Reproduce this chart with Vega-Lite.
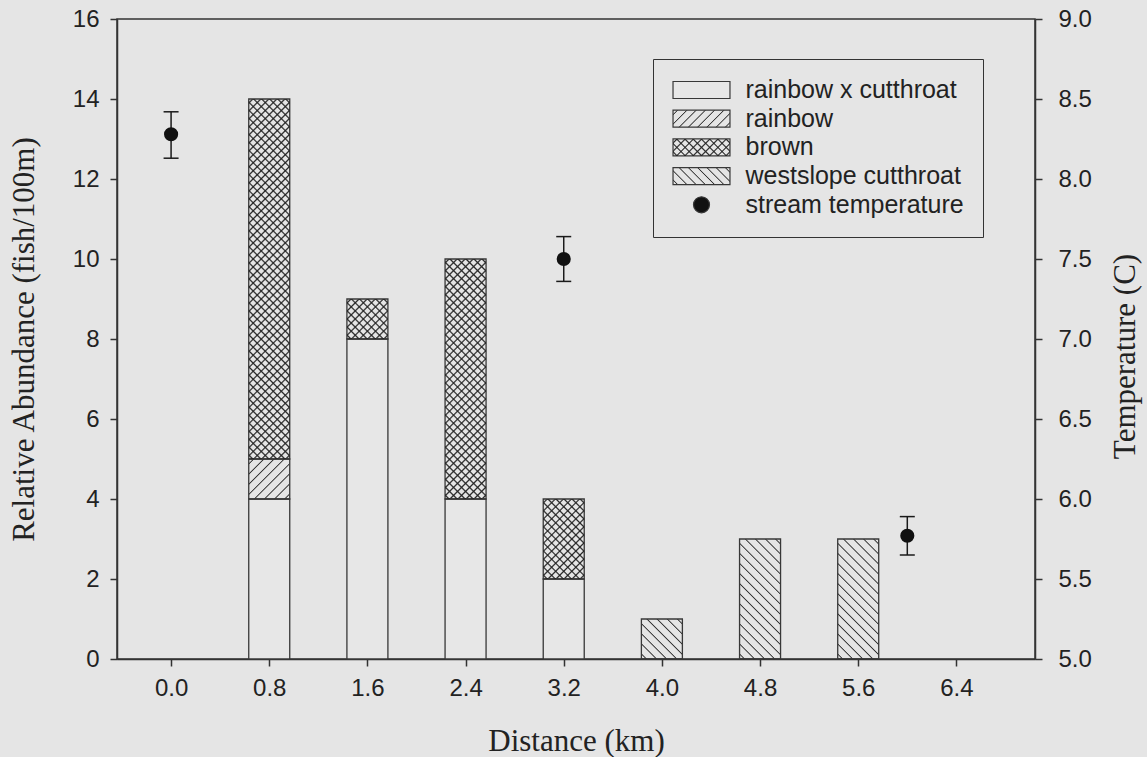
{
  "$schema": "https://vega.github.io/schema/vega-lite/v6.json",
  "width": 918,
  "height": 640,
  "autosize": {"type": "none"},
  "padding": {"left": 117, "top": 19, "right": 112, "bottom": 98},
  "background": "#e5e5e5",
  "view": {"stroke": "#333", "strokeWidth": 1.5},
  "params": [
    {"name": "s50", "value": [
      {"offset":0.006,"color":"transparent"},{"offset":0.01,"color":"#2a2a2a"},{"offset":0.014,"color":"transparent"},
      {"offset":0.026,"color":"transparent"},{"offset":0.03,"color":"#2a2a2a"},{"offset":0.034,"color":"transparent"},
      {"offset":0.046,"color":"transparent"},{"offset":0.05,"color":"#2a2a2a"},{"offset":0.054,"color":"transparent"},
      {"offset":0.066,"color":"transparent"},{"offset":0.07,"color":"#2a2a2a"},{"offset":0.074,"color":"transparent"},
      {"offset":0.086,"color":"transparent"},{"offset":0.09,"color":"#2a2a2a"},{"offset":0.094,"color":"transparent"},
      {"offset":0.106,"color":"transparent"},{"offset":0.11,"color":"#2a2a2a"},{"offset":0.114,"color":"transparent"},
      {"offset":0.126,"color":"transparent"},{"offset":0.13,"color":"#2a2a2a"},{"offset":0.134,"color":"transparent"},
      {"offset":0.146,"color":"transparent"},{"offset":0.15,"color":"#2a2a2a"},{"offset":0.154,"color":"transparent"},
      {"offset":0.166,"color":"transparent"},{"offset":0.17,"color":"#2a2a2a"},{"offset":0.174,"color":"transparent"},
      {"offset":0.186,"color":"transparent"},{"offset":0.19,"color":"#2a2a2a"},{"offset":0.194,"color":"transparent"},
      {"offset":0.206,"color":"transparent"},{"offset":0.21,"color":"#2a2a2a"},{"offset":0.214,"color":"transparent"},
      {"offset":0.226,"color":"transparent"},{"offset":0.23,"color":"#2a2a2a"},{"offset":0.234,"color":"transparent"},
      {"offset":0.246,"color":"transparent"},{"offset":0.25,"color":"#2a2a2a"},{"offset":0.254,"color":"transparent"},
      {"offset":0.266,"color":"transparent"},{"offset":0.27,"color":"#2a2a2a"},{"offset":0.274,"color":"transparent"},
      {"offset":0.286,"color":"transparent"},{"offset":0.29,"color":"#2a2a2a"},{"offset":0.294,"color":"transparent"},
      {"offset":0.306,"color":"transparent"},{"offset":0.31,"color":"#2a2a2a"},{"offset":0.314,"color":"transparent"},
      {"offset":0.326,"color":"transparent"},{"offset":0.33,"color":"#2a2a2a"},{"offset":0.334,"color":"transparent"},
      {"offset":0.346,"color":"transparent"},{"offset":0.35,"color":"#2a2a2a"},{"offset":0.354,"color":"transparent"},
      {"offset":0.366,"color":"transparent"},{"offset":0.37,"color":"#2a2a2a"},{"offset":0.374,"color":"transparent"},
      {"offset":0.386,"color":"transparent"},{"offset":0.39,"color":"#2a2a2a"},{"offset":0.394,"color":"transparent"},
      {"offset":0.406,"color":"transparent"},{"offset":0.41,"color":"#2a2a2a"},{"offset":0.414,"color":"transparent"},
      {"offset":0.426,"color":"transparent"},{"offset":0.43,"color":"#2a2a2a"},{"offset":0.434,"color":"transparent"},
      {"offset":0.446,"color":"transparent"},{"offset":0.45,"color":"#2a2a2a"},{"offset":0.454,"color":"transparent"},
      {"offset":0.466,"color":"transparent"},{"offset":0.47,"color":"#2a2a2a"},{"offset":0.474,"color":"transparent"},
      {"offset":0.486,"color":"transparent"},{"offset":0.49,"color":"#2a2a2a"},{"offset":0.494,"color":"transparent"},
      {"offset":0.506,"color":"transparent"},{"offset":0.51,"color":"#2a2a2a"},{"offset":0.514,"color":"transparent"},
      {"offset":0.526,"color":"transparent"},{"offset":0.53,"color":"#2a2a2a"},{"offset":0.534,"color":"transparent"},
      {"offset":0.546,"color":"transparent"},{"offset":0.55,"color":"#2a2a2a"},{"offset":0.554,"color":"transparent"},
      {"offset":0.566,"color":"transparent"},{"offset":0.57,"color":"#2a2a2a"},{"offset":0.574,"color":"transparent"},
      {"offset":0.586,"color":"transparent"},{"offset":0.59,"color":"#2a2a2a"},{"offset":0.594,"color":"transparent"},
      {"offset":0.606,"color":"transparent"},{"offset":0.61,"color":"#2a2a2a"},{"offset":0.614,"color":"transparent"},
      {"offset":0.626,"color":"transparent"},{"offset":0.63,"color":"#2a2a2a"},{"offset":0.634,"color":"transparent"},
      {"offset":0.646,"color":"transparent"},{"offset":0.65,"color":"#2a2a2a"},{"offset":0.654,"color":"transparent"},
      {"offset":0.666,"color":"transparent"},{"offset":0.67,"color":"#2a2a2a"},{"offset":0.674,"color":"transparent"},
      {"offset":0.686,"color":"transparent"},{"offset":0.69,"color":"#2a2a2a"},{"offset":0.694,"color":"transparent"},
      {"offset":0.706,"color":"transparent"},{"offset":0.71,"color":"#2a2a2a"},{"offset":0.714,"color":"transparent"},
      {"offset":0.726,"color":"transparent"},{"offset":0.73,"color":"#2a2a2a"},{"offset":0.734,"color":"transparent"},
      {"offset":0.746,"color":"transparent"},{"offset":0.75,"color":"#2a2a2a"},{"offset":0.754,"color":"transparent"},
      {"offset":0.766,"color":"transparent"},{"offset":0.77,"color":"#2a2a2a"},{"offset":0.774,"color":"transparent"},
      {"offset":0.786,"color":"transparent"},{"offset":0.79,"color":"#2a2a2a"},{"offset":0.794,"color":"transparent"},
      {"offset":0.806,"color":"transparent"},{"offset":0.81,"color":"#2a2a2a"},{"offset":0.814,"color":"transparent"},
      {"offset":0.826,"color":"transparent"},{"offset":0.83,"color":"#2a2a2a"},{"offset":0.834,"color":"transparent"},
      {"offset":0.846,"color":"transparent"},{"offset":0.85,"color":"#2a2a2a"},{"offset":0.854,"color":"transparent"},
      {"offset":0.866,"color":"transparent"},{"offset":0.87,"color":"#2a2a2a"},{"offset":0.874,"color":"transparent"},
      {"offset":0.886,"color":"transparent"},{"offset":0.89,"color":"#2a2a2a"},{"offset":0.894,"color":"transparent"},
      {"offset":0.906,"color":"transparent"},{"offset":0.91,"color":"#2a2a2a"},{"offset":0.914,"color":"transparent"},
      {"offset":0.926,"color":"transparent"},{"offset":0.93,"color":"#2a2a2a"},{"offset":0.934,"color":"transparent"},
      {"offset":0.946,"color":"transparent"},{"offset":0.95,"color":"#2a2a2a"},{"offset":0.954,"color":"transparent"},
      {"offset":0.966,"color":"transparent"},{"offset":0.97,"color":"#2a2a2a"},{"offset":0.974,"color":"transparent"},
      {"offset":0.986,"color":"transparent"},{"offset":0.99,"color":"#2a2a2a"},{"offset":0.994,"color":"transparent"}
    ]},
    {"name": "s10", "value": [
      {"offset":0.03,"color":"transparent"},{"offset":0.05,"color":"#2a2a2a"},{"offset":0.07,"color":"transparent"},
      {"offset":0.13,"color":"transparent"},{"offset":0.15,"color":"#2a2a2a"},{"offset":0.17,"color":"transparent"},
      {"offset":0.23,"color":"transparent"},{"offset":0.25,"color":"#2a2a2a"},{"offset":0.27,"color":"transparent"},
      {"offset":0.33,"color":"transparent"},{"offset":0.35,"color":"#2a2a2a"},{"offset":0.37,"color":"transparent"},
      {"offset":0.43,"color":"transparent"},{"offset":0.45,"color":"#2a2a2a"},{"offset":0.47,"color":"transparent"},
      {"offset":0.53,"color":"transparent"},{"offset":0.55,"color":"#2a2a2a"},{"offset":0.57,"color":"transparent"},
      {"offset":0.63,"color":"transparent"},{"offset":0.65,"color":"#2a2a2a"},{"offset":0.67,"color":"transparent"},
      {"offset":0.73,"color":"transparent"},{"offset":0.75,"color":"#2a2a2a"},{"offset":0.77,"color":"transparent"},
      {"offset":0.83,"color":"transparent"},{"offset":0.85,"color":"#2a2a2a"},{"offset":0.87,"color":"transparent"},
      {"offset":0.93,"color":"transparent"},{"offset":0.95,"color":"#2a2a2a"},{"offset":0.97,"color":"transparent"}
    ]},
    {"name": "s35", "value": [
      {"offset":0.0086,"color":"transparent"},{"offset":0.0143,"color":"#2a2a2a"},{"offset":0.02,"color":"transparent"},
      {"offset":0.0372,"color":"transparent"},{"offset":0.0429,"color":"#2a2a2a"},{"offset":0.0486,"color":"transparent"},
      {"offset":0.0657,"color":"transparent"},{"offset":0.0714,"color":"#2a2a2a"},{"offset":0.0771,"color":"transparent"},
      {"offset":0.0943,"color":"transparent"},{"offset":0.1,"color":"#2a2a2a"},{"offset":0.1057,"color":"transparent"},
      {"offset":0.1229,"color":"transparent"},{"offset":0.1286,"color":"#2a2a2a"},{"offset":0.1343,"color":"transparent"},
      {"offset":0.1514,"color":"transparent"},{"offset":0.1571,"color":"#2a2a2a"},{"offset":0.1628,"color":"transparent"},
      {"offset":0.18,"color":"transparent"},{"offset":0.1857,"color":"#2a2a2a"},{"offset":0.1914,"color":"transparent"},
      {"offset":0.2086,"color":"transparent"},{"offset":0.2143,"color":"#2a2a2a"},{"offset":0.22,"color":"transparent"},
      {"offset":0.2372,"color":"transparent"},{"offset":0.2429,"color":"#2a2a2a"},{"offset":0.2486,"color":"transparent"},
      {"offset":0.2657,"color":"transparent"},{"offset":0.2714,"color":"#2a2a2a"},{"offset":0.2771,"color":"transparent"},
      {"offset":0.2943,"color":"transparent"},{"offset":0.3,"color":"#2a2a2a"},{"offset":0.3057,"color":"transparent"},
      {"offset":0.3229,"color":"transparent"},{"offset":0.3286,"color":"#2a2a2a"},{"offset":0.3343,"color":"transparent"},
      {"offset":0.3514,"color":"transparent"},{"offset":0.3571,"color":"#2a2a2a"},{"offset":0.3628,"color":"transparent"},
      {"offset":0.38,"color":"transparent"},{"offset":0.3857,"color":"#2a2a2a"},{"offset":0.3914,"color":"transparent"},
      {"offset":0.4086,"color":"transparent"},{"offset":0.4143,"color":"#2a2a2a"},{"offset":0.42,"color":"transparent"},
      {"offset":0.4372,"color":"transparent"},{"offset":0.4429,"color":"#2a2a2a"},{"offset":0.4486,"color":"transparent"},
      {"offset":0.4657,"color":"transparent"},{"offset":0.4714,"color":"#2a2a2a"},{"offset":0.4771,"color":"transparent"},
      {"offset":0.4943,"color":"transparent"},{"offset":0.5,"color":"#2a2a2a"},{"offset":0.5057,"color":"transparent"},
      {"offset":0.5229,"color":"transparent"},{"offset":0.5286,"color":"#2a2a2a"},{"offset":0.5343,"color":"transparent"},
      {"offset":0.5514,"color":"transparent"},{"offset":0.5571,"color":"#2a2a2a"},{"offset":0.5628,"color":"transparent"},
      {"offset":0.58,"color":"transparent"},{"offset":0.5857,"color":"#2a2a2a"},{"offset":0.5914,"color":"transparent"},
      {"offset":0.6086,"color":"transparent"},{"offset":0.6143,"color":"#2a2a2a"},{"offset":0.62,"color":"transparent"},
      {"offset":0.6372,"color":"transparent"},{"offset":0.6429,"color":"#2a2a2a"},{"offset":0.6486,"color":"transparent"},
      {"offset":0.6657,"color":"transparent"},{"offset":0.6714,"color":"#2a2a2a"},{"offset":0.6771,"color":"transparent"},
      {"offset":0.6943,"color":"transparent"},{"offset":0.7,"color":"#2a2a2a"},{"offset":0.7057,"color":"transparent"},
      {"offset":0.7229,"color":"transparent"},{"offset":0.7286,"color":"#2a2a2a"},{"offset":0.7343,"color":"transparent"},
      {"offset":0.7514,"color":"transparent"},{"offset":0.7571,"color":"#2a2a2a"},{"offset":0.7628,"color":"transparent"},
      {"offset":0.78,"color":"transparent"},{"offset":0.7857,"color":"#2a2a2a"},{"offset":0.7914,"color":"transparent"},
      {"offset":0.8086,"color":"transparent"},{"offset":0.8143,"color":"#2a2a2a"},{"offset":0.82,"color":"transparent"},
      {"offset":0.8372,"color":"transparent"},{"offset":0.8429,"color":"#2a2a2a"},{"offset":0.8486,"color":"transparent"},
      {"offset":0.8657,"color":"transparent"},{"offset":0.8714,"color":"#2a2a2a"},{"offset":0.8771,"color":"transparent"},
      {"offset":0.8943,"color":"transparent"},{"offset":0.9,"color":"#2a2a2a"},{"offset":0.9057,"color":"transparent"},
      {"offset":0.9229,"color":"transparent"},{"offset":0.9286,"color":"#2a2a2a"},{"offset":0.9343,"color":"transparent"},
      {"offset":0.9514,"color":"transparent"},{"offset":0.9571,"color":"#2a2a2a"},{"offset":0.9628,"color":"transparent"},
      {"offset":0.98,"color":"transparent"},{"offset":0.9857,"color":"#2a2a2a"},{"offset":0.9914,"color":"transparent"}
    ]},
    {"name": "s15", "value": [
      {"offset":0.0203,"color":"transparent"},{"offset":0.0333,"color":"#2a2a2a"},{"offset":0.0463,"color":"transparent"},
      {"offset":0.087,"color":"transparent"},{"offset":0.1,"color":"#2a2a2a"},{"offset":0.113,"color":"transparent"},
      {"offset":0.1537,"color":"transparent"},{"offset":0.1667,"color":"#2a2a2a"},{"offset":0.1797,"color":"transparent"},
      {"offset":0.2203,"color":"transparent"},{"offset":0.2333,"color":"#2a2a2a"},{"offset":0.2463,"color":"transparent"},
      {"offset":0.287,"color":"transparent"},{"offset":0.3,"color":"#2a2a2a"},{"offset":0.313,"color":"transparent"},
      {"offset":0.3537,"color":"transparent"},{"offset":0.3667,"color":"#2a2a2a"},{"offset":0.3797,"color":"transparent"},
      {"offset":0.4203,"color":"transparent"},{"offset":0.4333,"color":"#2a2a2a"},{"offset":0.4463,"color":"transparent"},
      {"offset":0.487,"color":"transparent"},{"offset":0.5,"color":"#2a2a2a"},{"offset":0.513,"color":"transparent"},
      {"offset":0.5537,"color":"transparent"},{"offset":0.5667,"color":"#2a2a2a"},{"offset":0.5797,"color":"transparent"},
      {"offset":0.6203,"color":"transparent"},{"offset":0.6333,"color":"#2a2a2a"},{"offset":0.6463,"color":"transparent"},
      {"offset":0.687,"color":"transparent"},{"offset":0.7,"color":"#2a2a2a"},{"offset":0.713,"color":"transparent"},
      {"offset":0.7537,"color":"transparent"},{"offset":0.7667,"color":"#2a2a2a"},{"offset":0.7797,"color":"transparent"},
      {"offset":0.8203,"color":"transparent"},{"offset":0.8333,"color":"#2a2a2a"},{"offset":0.8463,"color":"transparent"},
      {"offset":0.887,"color":"transparent"},{"offset":0.9,"color":"#2a2a2a"},{"offset":0.913,"color":"transparent"},
      {"offset":0.9537,"color":"transparent"},{"offset":0.9667,"color":"#2a2a2a"},{"offset":0.9797,"color":"transparent"}
    ]},
    {"name": "s8", "value": [
      {"offset":0.0475,"color":"transparent"},{"offset":0.0625,"color":"#333"},{"offset":0.0775,"color":"transparent"},
      {"offset":0.1725,"color":"transparent"},{"offset":0.1875,"color":"#333"},{"offset":0.2025,"color":"transparent"},
      {"offset":0.2975,"color":"transparent"},{"offset":0.3125,"color":"#333"},{"offset":0.3275,"color":"transparent"},
      {"offset":0.4225,"color":"transparent"},{"offset":0.4375,"color":"#333"},{"offset":0.4525,"color":"transparent"},
      {"offset":0.5475,"color":"transparent"},{"offset":0.5625,"color":"#333"},{"offset":0.5775,"color":"transparent"},
      {"offset":0.6725,"color":"transparent"},{"offset":0.6875,"color":"#333"},{"offset":0.7025,"color":"transparent"},
      {"offset":0.7975,"color":"transparent"},{"offset":0.8125,"color":"#333"},{"offset":0.8275,"color":"transparent"},
      {"offset":0.9225,"color":"transparent"},{"offset":0.9375,"color":"#333"},{"offset":0.9525,"color":"transparent"}
    ]},
    {"name": "s16", "value": [
      {"offset":0.02375,"color":"transparent"},{"offset":0.03125,"color":"#333"},{"offset":0.03875,"color":"transparent"},
      {"offset":0.08625,"color":"transparent"},{"offset":0.09375,"color":"#333"},{"offset":0.10125,"color":"transparent"},
      {"offset":0.14875,"color":"transparent"},{"offset":0.15625,"color":"#333"},{"offset":0.16375,"color":"transparent"},
      {"offset":0.21125,"color":"transparent"},{"offset":0.21875,"color":"#333"},{"offset":0.22625,"color":"transparent"},
      {"offset":0.27375,"color":"transparent"},{"offset":0.28125,"color":"#333"},{"offset":0.28875,"color":"transparent"},
      {"offset":0.33625,"color":"transparent"},{"offset":0.34375,"color":"#333"},{"offset":0.35125,"color":"transparent"},
      {"offset":0.39875,"color":"transparent"},{"offset":0.40625,"color":"#333"},{"offset":0.41375,"color":"transparent"},
      {"offset":0.46125,"color":"transparent"},{"offset":0.46875,"color":"#333"},{"offset":0.47625,"color":"transparent"},
      {"offset":0.52375,"color":"transparent"},{"offset":0.53125,"color":"#333"},{"offset":0.53875,"color":"transparent"},
      {"offset":0.58625,"color":"transparent"},{"offset":0.59375,"color":"#333"},{"offset":0.60125,"color":"transparent"},
      {"offset":0.64875,"color":"transparent"},{"offset":0.65625,"color":"#333"},{"offset":0.66375,"color":"transparent"},
      {"offset":0.71125,"color":"transparent"},{"offset":0.71875,"color":"#333"},{"offset":0.72625,"color":"transparent"},
      {"offset":0.77375,"color":"transparent"},{"offset":0.78125,"color":"#333"},{"offset":0.78875,"color":"transparent"},
      {"offset":0.83625,"color":"transparent"},{"offset":0.84375,"color":"#333"},{"offset":0.85125,"color":"transparent"},
      {"offset":0.89875,"color":"transparent"},{"offset":0.90625,"color":"#333"},{"offset":0.91375,"color":"transparent"},
      {"offset":0.96125,"color":"transparent"},{"offset":0.96875,"color":"#333"},{"offset":0.97625,"color":"transparent"}
    ]},
    {"name": "s9", "value": [
      {"offset":0.0356,"color":"transparent"},{"offset":0.0556,"color":"#2a2a2a"},{"offset":0.0756,"color":"transparent"},
      {"offset":0.1467,"color":"transparent"},{"offset":0.1667,"color":"#2a2a2a"},{"offset":0.1867,"color":"transparent"},
      {"offset":0.2578,"color":"transparent"},{"offset":0.2778,"color":"#2a2a2a"},{"offset":0.2978,"color":"transparent"},
      {"offset":0.3689,"color":"transparent"},{"offset":0.3889,"color":"#2a2a2a"},{"offset":0.4089,"color":"transparent"},
      {"offset":0.48,"color":"transparent"},{"offset":0.5,"color":"#2a2a2a"},{"offset":0.52,"color":"transparent"},
      {"offset":0.5911,"color":"transparent"},{"offset":0.6111,"color":"#2a2a2a"},{"offset":0.6311,"color":"transparent"},
      {"offset":0.7022,"color":"transparent"},{"offset":0.7222,"color":"#2a2a2a"},{"offset":0.7422,"color":"transparent"},
      {"offset":0.8133,"color":"transparent"},{"offset":0.8333,"color":"#2a2a2a"},{"offset":0.8533,"color":"transparent"},
      {"offset":0.9244,"color":"transparent"},{"offset":0.9444,"color":"#2a2a2a"},{"offset":0.9644,"color":"transparent"}
    ]},
    {"name": "gA1", "expr": "{gradient: 'linear', x1: 0, y1: 0, x2: 0.12524, y2: 1.09963, stops: s50}"},
    {"name": "gA2", "expr": "{gradient: 'linear', x1: 0, y1: 1, x2: 0.12524, y2: -0.09963, stops: s50}"},
    {"name": "gB1", "expr": "{gradient: 'linear', x1: 0, y1: 0, x2: 1.01219, y2: 0.9875, stops: s10}"},
    {"name": "gB2", "expr": "{gradient: 'linear', x1: 0, y1: 1, x2: 1.01219, y2: 0.0125, stops: s10}"},
    {"name": "gC1", "expr": "{gradient: 'linear', x1: 0, y1: 0, x2: 0.19435, y2: 1.13763, stops: s35}"},
    {"name": "gC2", "expr": "{gradient: 'linear', x1: 0, y1: 1, x2: 0.19435, y2: -0.13763, stops: s35}"},
    {"name": "gD1", "expr": "{gradient: 'linear', x1: 0, y1: 0, x2: 0.61391, y2: 1.19787, stops: s15}"},
    {"name": "gD2", "expr": "{gradient: 'linear', x1: 0, y1: 1, x2: 0.61391, y2: -0.19787, stops: s15}"},
    {"name": "gE", "expr": "{gradient: 'linear', x1: 0, y1: 0, x2: 1.01219, y2: 0.9875, stops: s8}"},
    {"name": "gF", "expr": "{gradient: 'linear', x1: 0, y1: 1, x2: 1.01219, y2: 0.0125, stops: s8}"},
    {"name": "gG", "expr": "{gradient: 'linear', x1: 0, y1: 1, x2: 0.41048, y2: -0.20142, stops: s16}"},
    {"name": "gLr", "expr": "{gradient: 'linear', x1: 0, y1: 0, x2: 1.1922, y2: 0.3556, stops: s8}"},
    {"name": "gLw", "expr": "{gradient: 'linear', x1: 0, y1: 1, x2: 1.1922, y2: 0.6444, stops: s8}"},
    {"name": "gLb1", "expr": "{gradient: 'linear', x1: 0, y1: 0, x2: 1.1922, y2: 0.3556, stops: s9}"},
    {"name": "gLb2", "expr": "{gradient: 'linear', x1: 0, y1: 1, x2: 1.1922, y2: 0.6444, stops: s9}"}
  ],
  "datasets": {
    "fish": [
      {"distance": 0.8, "species": "rainbow x cutthroat", "abundance": 4},
      {"distance": 0.8, "species": "rainbow", "abundance": 1},
      {"distance": 0.8, "species": "brown", "abundance": 9},
      {"distance": 1.6, "species": "rainbow x cutthroat", "abundance": 8},
      {"distance": 1.6, "species": "brown", "abundance": 1},
      {"distance": 2.4, "species": "rainbow x cutthroat", "abundance": 4},
      {"distance": 2.4, "species": "brown", "abundance": 6},
      {"distance": 3.2, "species": "rainbow x cutthroat", "abundance": 2},
      {"distance": 3.2, "species": "brown", "abundance": 2},
      {"distance": 4.0, "species": "westslope cutthroat", "abundance": 1},
      {"distance": 4.8, "species": "westslope cutthroat", "abundance": 3},
      {"distance": 5.6, "species": "westslope cutthroat", "abundance": 3}
    ],
    "temperature": [
      {"distance": 0.0, "series": "stream temperature", "temp": 8.28, "lo": 8.13, "hi": 8.42},
      {"distance": 3.2, "series": "stream temperature", "temp": 7.50, "lo": 7.36, "hi": 7.64},
      {"distance": 6.0, "series": "stream temperature", "temp": 5.77, "lo": 5.65, "hi": 5.89}
    ]
  },
  "layer": [
    {
      "data": {"name": "fish"},
      "resolve": {"scale": {"fill": "independent"}, "legend": {"fill": "independent"}},
      "layer": [
        {
          "mark": {"type": "bar", "width": 41, "stroke": "#383838", "strokeWidth": 1.3},
          "encoding": {
            "x": {
              "field": "distance", "type": "quantitative",
              "scale": {"domain": [-0.4, 7.0], "nice": false, "zero": false},
              "axis": {"title": "Distance (km)", "values": [0, 0.8, 1.6, 2.4, 3.2, 4.0, 4.8, 5.6, 6.4], "format": ".1f", "labelPadding": 10, "titleBaseline": "alphabetic", "titleY": 91}
            },
            "y": {
              "field": "abundance", "type": "quantitative", "stack": "zero",
              "scale": {"domain": [0, 16], "nice": false},
              "axis": {"title": "Relative Abundance (fish/100m)", "orient": "left", "values": [0, 2, 4, 6, 8, 10, 12, 14, 16], "labelPadding": 11, "titleAngle": -90, "titleBaseline": "alphabetic", "titleX": -84, "titleY": 320}
            },
            "fill": {
              "field": "species", "type": "nominal",
              "condition": [
                {"test": "datum.species === 'brown' && datum.distance === 0.8", "value": {"expr": "gA1"}},
                {"test": "datum.species === 'brown' && datum.distance === 1.6", "value": {"expr": "gB1"}},
                {"test": "datum.species === 'brown' && datum.distance === 2.4", "value": {"expr": "gC1"}},
                {"test": "datum.species === 'brown' && datum.distance === 3.2", "value": {"expr": "gD1"}},
                {"test": "datum.species === 'rainbow'", "value": {"expr": "gE"}},
                {"test": "datum.species === 'westslope cutthroat' && datum.distance === 4", "value": {"expr": "gF"}},
                {"test": "datum.species === 'westslope cutthroat'", "value": {"expr": "gG"}}
              ],
              "scale": {
                "domain": ["rainbow x cutthroat", "rainbow", "brown", "westslope cutthroat", "stream temperature"],
                "range": ["#e7e7e7", {"expr": "gLr"}, {"expr": "gLb1"}, {"expr": "gLw"}, "#111111"]
              },
              "legend": {
                "title": null,
                "orient": "none",
                "legendX": 536,
                "legendY": 40,
                "padding": 18.5,
                "rowPadding": 2.7,
                "symbolOffset": 17.5,
                "labelOffset": 31.5,
                "labelLimit": 400,
                "symbolSize": 289,
                "symbolType": {"expr": "datum.value === 'stream temperature' ? 'M0.94,0A0.94,0.94,0,1,1,-0.94,0A0.94,0.94,0,1,1,0.94,0Z' : 'M-3.35,-1H3.35V1H-3.35Z'"},
                "symbolStrokeColor": "#383838",
                "symbolStrokeWidth": 1.2,
                "strokeColor": "#333"
              }
            },
            "order": {"field": "species", "sort": "descending"}
          }
        },
        {
          "transform": [
            {"calculate": "datum.species === 'brown' ? 'b' + datum.distance : 'L1'", "as": "hatchKey"}
          ],
          "mark": {"type": "bar", "width": 41, "stroke": "transparent", "strokeWidth": 0},
          "encoding": {
            "x": {"field": "distance", "type": "quantitative"},
            "y": {
              "field": "abundance", "type": "quantitative", "stack": "zero",
              "scale": {"domain": [0, 16], "nice": false},
              "axis": {"title": "Relative Abundance (fish/100m)", "orient": "left", "values": [0, 2, 4, 6, 8, 10, 12, 14, 16], "labelPadding": 11, "titleAngle": -90, "titleBaseline": "alphabetic", "titleX": -84, "titleY": 320}
            },
            "fill": {
              "field": "hatchKey", "type": "nominal",
              "scale": {
                "domain": ["L1", "L2", "L3", "L4", "L5", "b0.8", "b1.6", "b2.4", "b3.2"],
                "range": ["transparent", "transparent", {"expr": "gLb2"}, "transparent", "transparent", {"expr": "gA2"}, {"expr": "gB2"}, {"expr": "gC2"}, {"expr": "gD2"}]
              },
              "legend": {
                "title": null,
                "orient": "none",
                "legendX": 536,
                "legendY": 40,
                "values": ["L1", "L2", "L3", "L4", "L5"],
                "labelExpr": "datum.value === 'L1' ? 'rainbow x cutthroat' : datum.value === 'L2' ? 'rainbow' : datum.value === 'L3' ? 'brown' : datum.value === 'L4' ? 'westslope cutthroat' : 'stream temperature'",
                "labelColor": "transparent",
                "padding": 18.5,
                "rowPadding": 2.7,
                "symbolOffset": 17.5,
                "labelOffset": 31.5,
                "labelLimit": 400,
                "symbolSize": 289,
                "symbolType": {"expr": "datum.value === 'L5' ? 'M0.94,0A0.94,0.94,0,1,1,-0.94,0A0.94,0.94,0,1,1,0.94,0Z' : 'M-3.35,-1H3.35V1H-3.35Z'"},
                "symbolStrokeColor": "transparent",
                "symbolStrokeWidth": 0
              }
            },
            "order": {"field": "species", "sort": "descending"}
          }
        }
      ]
    },
    {
      "data": {"name": "temperature"},
      "layer": [
        {
          "mark": {"type": "rule", "color": "#1a1a1a", "strokeWidth": 1.5},
          "encoding": {
            "x": {"field": "distance", "type": "quantitative"},
            "y": {"field": "lo", "type": "quantitative", "scale": {"domain": [5, 9], "nice": false, "zero": false}, "axis": {"title": "Temperature (C)", "orient": "right", "values": [5, 5.5, 6, 6.5, 7, 7.5, 8, 8.5, 9], "format": ".1f", "labelPadding": 16, "titleAngle": -90, "titleBaseline": "alphabetic", "titleX": 99, "titleY": 337}},
            "y2": {"field": "hi"}
          }
        },
        {
          "mark": {"type": "point", "shape": "M-1,0L1,0", "size": 225, "filled": false, "stroke": "#1a1a1a", "strokeWidth": 1.5, "opacity": 1},
          "encoding": {
            "x": {"field": "distance", "type": "quantitative"},
            "y": {"field": "lo", "type": "quantitative", "scale": {"domain": [5, 9], "nice": false, "zero": false}, "axis": {"title": "Temperature (C)", "orient": "right", "values": [5, 5.5, 6, 6.5, 7, 7.5, 8, 8.5, 9], "format": ".1f", "labelPadding": 16, "titleAngle": -90, "titleBaseline": "alphabetic", "titleX": 99, "titleY": 337}}
          }
        },
        {
          "mark": {"type": "point", "shape": "M-1,0L1,0", "size": 225, "filled": false, "stroke": "#1a1a1a", "strokeWidth": 1.5, "opacity": 1},
          "encoding": {
            "x": {"field": "distance", "type": "quantitative"},
            "y": {"field": "hi", "type": "quantitative", "scale": {"domain": [5, 9], "nice": false, "zero": false}, "axis": {"title": "Temperature (C)", "orient": "right", "values": [5, 5.5, 6, 6.5, 7, 7.5, 8, 8.5, 9], "format": ".1f", "labelPadding": 16, "titleAngle": -90, "titleBaseline": "alphabetic", "titleX": 99, "titleY": 337}}
          }
        },
        {
          "mark": {"type": "point", "shape": "circle", "size": 200, "filled": true, "fill": "#111111", "opacity": 1, "strokeWidth": 0},
          "encoding": {
            "x": {"field": "distance", "type": "quantitative"},
            "y": {"field": "temp", "type": "quantitative", "scale": {"domain": [5, 9], "nice": false, "zero": false}, "axis": {"title": "Temperature (C)", "orient": "right", "values": [5, 5.5, 6, 6.5, 7, 7.5, 8, 8.5, 9], "format": ".1f", "labelPadding": 16, "titleAngle": -90, "titleBaseline": "alphabetic", "titleX": 99, "titleY": 337}}
          }
        }
      ]
    }
  ],
  "resolve": {"scale": {"y": "independent"}},
  "config": {
    "axis": {
      "labelFont": "Liberation Sans", "labelFontSize": 24, "labelColor": "#222",
      "titleFont": "Liberation Serif", "titleFontSize": 31, "titleFontWeight": "normal", "titleColor": "#222",
      "domainColor": "#333", "domainWidth": 1.5, "tickColor": "#333", "tickWidth": 1.5, "tickSize": 7,
      "grid": false, "labelFlush": false, "labelOverlap": false
    },
    "legend": {"labelFont": "Liberation Sans", "labelFontSize": 25, "labelColor": "#222"}
  }
}
